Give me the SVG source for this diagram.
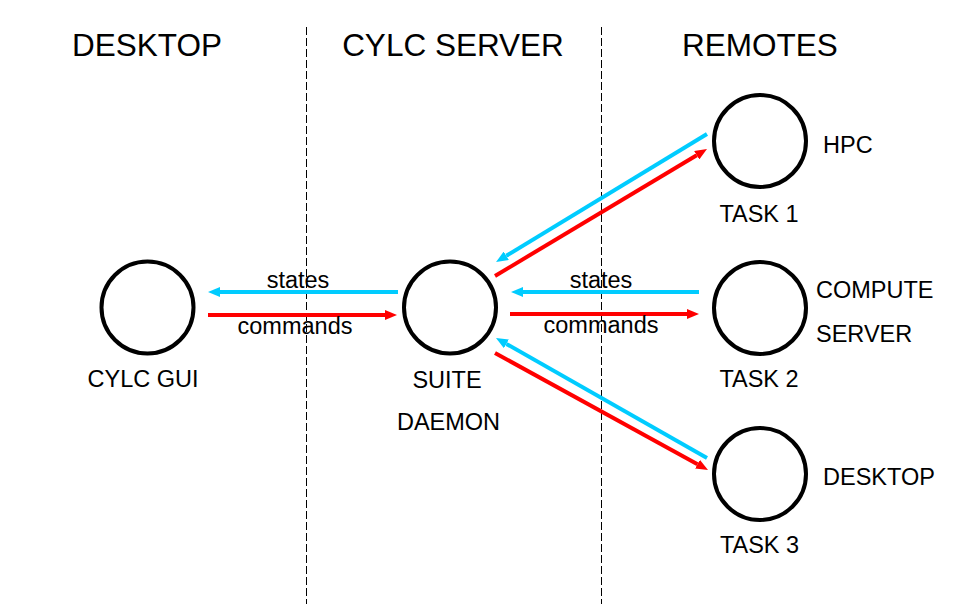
<svg xmlns="http://www.w3.org/2000/svg" width="960" height="614" viewBox="0 0 960 614">
<style>
text{font-family:"Liberation Sans",Arial,sans-serif;fill:#000}
.title{font-size:31.5px;text-anchor:middle}
.lbl{font-size:23.5px}
.mid{text-anchor:middle}
.node{fill:#fff;stroke:#000;stroke-width:4}
.div{stroke:#000;stroke-width:1;stroke-dasharray:8 3;fill:none}
.blue{stroke:#00CCFF;stroke-width:4;fill:none;marker-end:url(#ab)}
.red{stroke:#FF0000;stroke-width:4;fill:none;marker-end:url(#ar)}
</style>
<defs>
<marker id="ab" markerUnits="userSpaceOnUse" markerWidth="12" markerHeight="10" refX="0" refY="5" orient="auto"><path d="M0,0 L12,5 L0,10 z" fill="#00CCFF"/></marker>
<marker id="ar" markerUnits="userSpaceOnUse" markerWidth="12" markerHeight="10" refX="0" refY="5" orient="auto"><path d="M0,0 L12,5 L0,10 z" fill="#FF0000"/></marker>
</defs>
<rect width="960" height="614" fill="#fff"/>
<g id="dividers">
<line class="div" x1="306.5" y1="27" x2="306.5" y2="604"/>
<line class="div" x1="601.5" y1="27" x2="601.5" y2="604"/>
</g>
<g id="titles">
<text class="title" x="147" y="56">DESKTOP</text>
<text class="title" x="453" y="56">CYLC SERVER</text>
<text class="title" x="760" y="56">REMOTES</text>
</g>
<g id="connectors">
<line class="blue" x1="398" y1="292" x2="220" y2="292"/>
<line class="red" x1="208" y1="315" x2="385" y2="315"/>
<line class="blue" x1="699" y1="292" x2="523" y2="292"/>
<line class="red" x1="510" y1="314" x2="687" y2="314"/>
<line class="blue" x1="707" y1="134" x2="506.3" y2="255.8"/>
<line class="red" x1="495" y1="276" x2="696.7" y2="155.2"/>
<line class="blue" x1="707" y1="458" x2="506.4" y2="343.9"/>
<line class="red" x1="495" y1="353" x2="697.5" y2="464.2"/>
<text class="lbl mid" x="298" y="288">states</text>
<text class="lbl mid" x="295" y="334">commands</text>
<text class="lbl mid" x="601" y="288">states</text>
<text class="lbl mid" x="601" y="333">commands</text>
</g>
<g id="cylc-gui">
<circle class="node" cx="147.5" cy="307.5" r="46"/>
<text class="lbl mid" x="143" y="387">CYLC GUI</text>
</g>
<g id="suite-daemon">
<circle class="node" cx="450" cy="307.5" r="46"/>
<text class="lbl mid" x="447" y="388">SUITE</text>
<text class="lbl mid" x="448.5" y="430">DAEMON</text>
</g>
<g id="task1">
<circle class="node" cx="760" cy="141" r="46"/>
<text class="lbl mid" x="759" y="222">TASK 1</text>
<text class="lbl" x="823" y="153">HPC</text>
</g>
<g id="task2">
<circle class="node" cx="760" cy="308" r="46"/>
<text class="lbl mid" x="759" y="387">TASK 2</text>
<text class="lbl" x="816" y="298">COMPUTE</text>
<text class="lbl" x="816" y="342">SERVER</text>
</g>
<g id="task3">
<circle class="node" cx="760" cy="474" r="46"/>
<text class="lbl mid" x="759.5" y="553">TASK 3</text>
<text class="lbl" x="823" y="485">DESKTOP</text>
</g>
</svg>
